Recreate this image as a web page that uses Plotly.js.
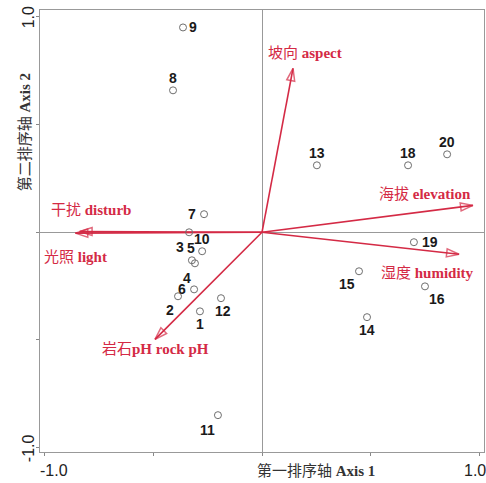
<!DOCTYPE html>
<html>
<head>
<meta charset="utf-8">
<script src="https://cdn.plot.ly/plotly-3.0.1.min.js"></script>
<style>html,body{margin:0;padding:0;background:#fff;}#chart{width:486px;height:483px;}</style>
</head>
<body>
<div id="chart"></div>
<script>
// Site scores (sample plots)
const siteIds = ['1','2','3','4','5','6','7','8','9','10','11','12','13','14','15','16','18','19','20'];
const siteX = [-0.286,-0.387,-0.336,-0.309,-0.323,-0.313,-0.267,-0.410,-0.364,-0.276,-0.203,-0.189,0.253,0.484,0.447,0.751,0.673,0.700,0.853];
const siteY = [-0.367,-0.297,0.000,-0.144,-0.130,-0.265,0.084,0.659,0.951,-0.088,-0.849,-0.306,0.311,-0.394,-0.181,-0.251,0.311,-0.046,0.362];

// Environmental vectors
const envCn = ['坡向','海拔','湿度','干扰','光照','岩石'];
const envEn = ['aspect','elevation','humidity','disturb','light','pH rock pH'];
const envX = [0.143,0.972,0.908,-0.840,-0.860,-0.493];
const envY = [0.761,0.125,-0.102,0.004,-0.004,-0.497];

// Tick labels
const tickVals = [-1,-0.5,0,0.5,1];
const tickLabelVals = [-1,1];
const tickLabelText = ['-1.0','1.0'];

// label placements (pixels: right, down)
const siteLabelOff = [[0,13],[-8,14],[-9,15],[-8,15],[-1,-12],[-12,0],[-12,0],[0,-12],[10,0],[0,-12],[-10,15],[2,13],[0,-12],[0,13],[-12,13],[12,13],[0,-12],[16,0],[0,-12]];
const envLabelOff = [[12,-15],[-48,-11],[-32,19],[11,-21],[0,24],[0,10]];
const envSep = [' ',' ',' ',' ',' ',''];

const RED = '#d42a45';
const traces = [];
envCn.forEach((n,i)=>{
  traces.push({
    type:'scatter', mode:'lines+markers',
    x:[0, envX[i]], y:[0, envY[i]],
    line:{color:RED, width:1.6},
    marker:{symbol:['circle','arrow-open'], size:[0,13], color:RED, angleref:'previous', line:{color:RED,width:1.5}},
    hoverinfo:'skip', showlegend:false
  });
});
traces.push({
  type:'scatter', mode:'markers', x:siteX, y:siteY,
  marker:{symbol:'circle-open', size:7, color:'#6e6e6e', line:{width:1}},
  showlegend:false, hoverinfo:'skip'
});

const SERIF = 'Liberation Serif, "Noto Sans CJK SC", serif';
const annotations = [];
siteIds.forEach((s,i)=>{
  annotations.push({x:siteX[i], y:siteY[i], text:s, showarrow:false,
    xshift:siteLabelOff[i][0], yshift:-siteLabelOff[i][1],
    font:{family:'Liberation Sans, Arial, sans-serif', size:14, color:'#1a1a1a', weight:'bold'}});
});
envCn.forEach((n,i)=>{
  annotations.push({x:envX[i], y:envY[i], text:n + envSep[i] + '<b>' + envEn[i] + '</b>', showarrow:false,
    xshift:envLabelOff[i][0], yshift:-envLabelOff[i][1],
    font:{family:SERIF, size:15, color:RED}});
});
annotations.push({xref:'paper', yref:'paper', x:0.76, y:-0.041, yanchor:'middle', text:'第一排序轴 <b>Axis 1</b>', showarrow:false,
  font:{family:SERIF, size:15, color:'#333'}});
annotations.push({xref:'paper', yref:'paper', x:-0.033, y:0.724, xanchor:'center', yanchor:'middle', text:'第二排序轴 <b>Axis 2</b>', showarrow:false, textangle:-90,
  font:{family:SERIF, size:15, color:'#333'}});
// tick labels
const TICKFONT = {family:'Liberation Sans, Arial, sans-serif', size:16, color:'#222'};
const xShifts = [9,-4];
tickLabelVals.forEach((v,i)=>{
  annotations.push({x:v, xref:'x', yref:'paper', y:-0.041, yanchor:'middle', text:tickLabelText[i], showarrow:false, xshift:xShifts[i], font:TICKFONT});
  annotations.push({y:v, yref:'y', xref:'paper', x:-0.026, xanchor:'center', yanchor:'middle', text:tickLabelText[i], showarrow:false, textangle:-90, font:TICKFONT});
});

const axisCommon = {
  tickvals:tickVals, showticklabels:false, ticks:'outside', ticklen:3, tickcolor:'#888', tickwidth:1,
  showline:true, linecolor:'#999', linewidth:1.2, mirror:true, showgrid:false,
  zeroline:true, zerolinecolor:'#999', zerolinewidth:1
};
const layout = {
  width:486, height:483,
  margin:{l:40, r:2, t:10, b:31},
  paper_bgcolor:'#fff', plot_bgcolor:'#fff',
  xaxis:Object.assign({}, axisCommon, {range:[-1.023,1.023]}),
  yaxis:Object.assign({}, axisCommon, {range:[-1.02,1.032]}),
  annotations:annotations, showlegend:false
};
Plotly.newPlot('chart', traces, layout, {staticPlot:true});
</script>
</body>
</html>
